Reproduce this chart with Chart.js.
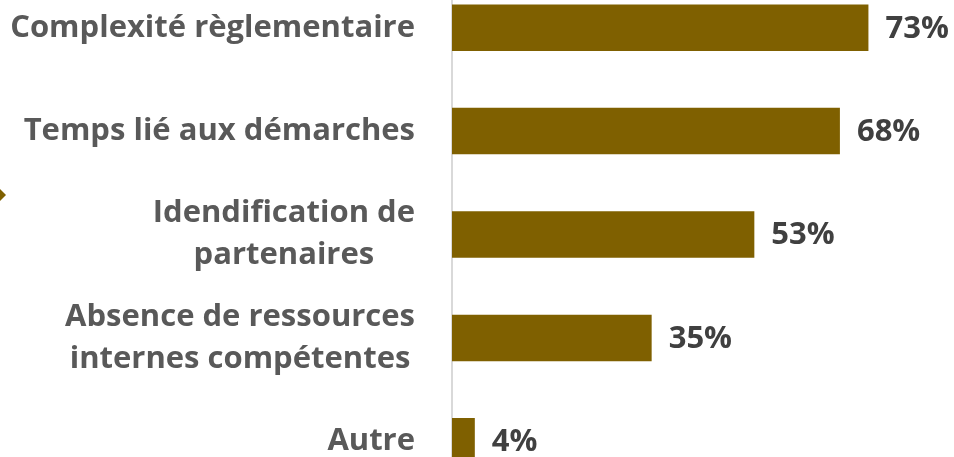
<!DOCTYPE html>
<html>
<head>
<meta charset="utf-8">
<script src="https://cdn.jsdelivr.net/npm/chart.js@4.4.0/dist/chart.umd.min.js"></script>
<style>
  html, body { margin: 0; padding: 0; background: #fff; overflow: hidden; width: 954px; height: 457px; }
  #wrap { position: absolute; left: 0; top: -24px; width: 954px; height: 517px; }
  #arrow { position: absolute; left: 0; top: 189px; width: 0; height: 0;
           border-top: 6.5px solid transparent; border-bottom: 6.5px solid transparent;
           border-left: 6px solid #7F6000; }
</style>
</head>
<body>
<div id="wrap"><canvas id="myChart"></canvas></div>
<div id="arrow"></div>
<script>
// données
const categories = [
    ['Complexité règlementaire'],
    ['Temps lié aux démarches'],
    ['Idendification de', 'partenaires'],
    ['Absence de ressources', 'internes compétentes'],
    ['Autre']
];
const valeurs = [73, 68, 53, 35, 4];
const xMax = 88;

const LABEL_FONT = 'bold 31px "Open Sans"';

// étiquettes des catégories : bloc aligné à droite, lignes centrées
const labelsPlugin = {
    id: 'categoryLabels',
    afterDraw(chart) {
        const c = chart.ctx;
        const y = chart.scales.y;
        c.save();
        c.font = LABEL_FONT;
        c.fillStyle = '#595959';
        c.textAlign = 'center';
        c.textBaseline = 'middle';
        const right = 415;
        const lh = 42;
        categories.forEach((lines, i) => {
            const cy = y.getPixelForTick(i);
            const w = Math.max(...lines.map(l => c.measureText(l).width));
            const cx = right - w / 2;
            lines.forEach((l, j) => {
                c.fillText(l, cx, cy + (j - (lines.length - 1) / 2) * lh);
            });
        });
        c.restore();
    }
};

// valeurs au bout des barres
const valuesPlugin = {
    id: 'valueLabels',
    afterDatasetsDraw(chart) {
        const c = chart.ctx;
        const meta = chart.getDatasetMeta(0);
        c.save();
        c.font = LABEL_FONT;
        c.fillStyle = '#404040';
        c.textAlign = 'left';
        c.textBaseline = 'middle';
        meta.data.forEach((bar, i) => {
            c.fillText(valeurs[i] + '%', bar.x + 17, bar.y + 1);
        });
        c.restore();
    }
};

const ctx = document.getElementById('myChart').getContext('2d');
const myChart = new Chart(ctx, {
    type: 'bar',
    data: {
        labels: categories,
        datasets: [{
            data: valeurs,
            backgroundColor: '#7F6000',
            borderWidth: 0,
            categoryPercentage: 1,
            barPercentage: 0.45
        }]
    },
    options: {
        indexAxis: 'y',
        responsive: true,
        maintainAspectRatio: false,
        animation: false,
        layout: { padding: 0 },
        plugins: {
            legend: { display: false },
            tooltip: { enabled: false }
        },
        scales: {
            x: {
                display: false,
                min: 0,
                max: xMax
            },
            y: {
                grid: { display: false, drawTicks: false },
                border: { display: true, color: '#D9D9D9', width: 2 },
                ticks: { display: false },
                afterFit(scale) { scale.width = 452; }
            }
        }
    },
    plugins: [labelsPlugin, valuesPlugin]
});
</script>
</body>
</html>
